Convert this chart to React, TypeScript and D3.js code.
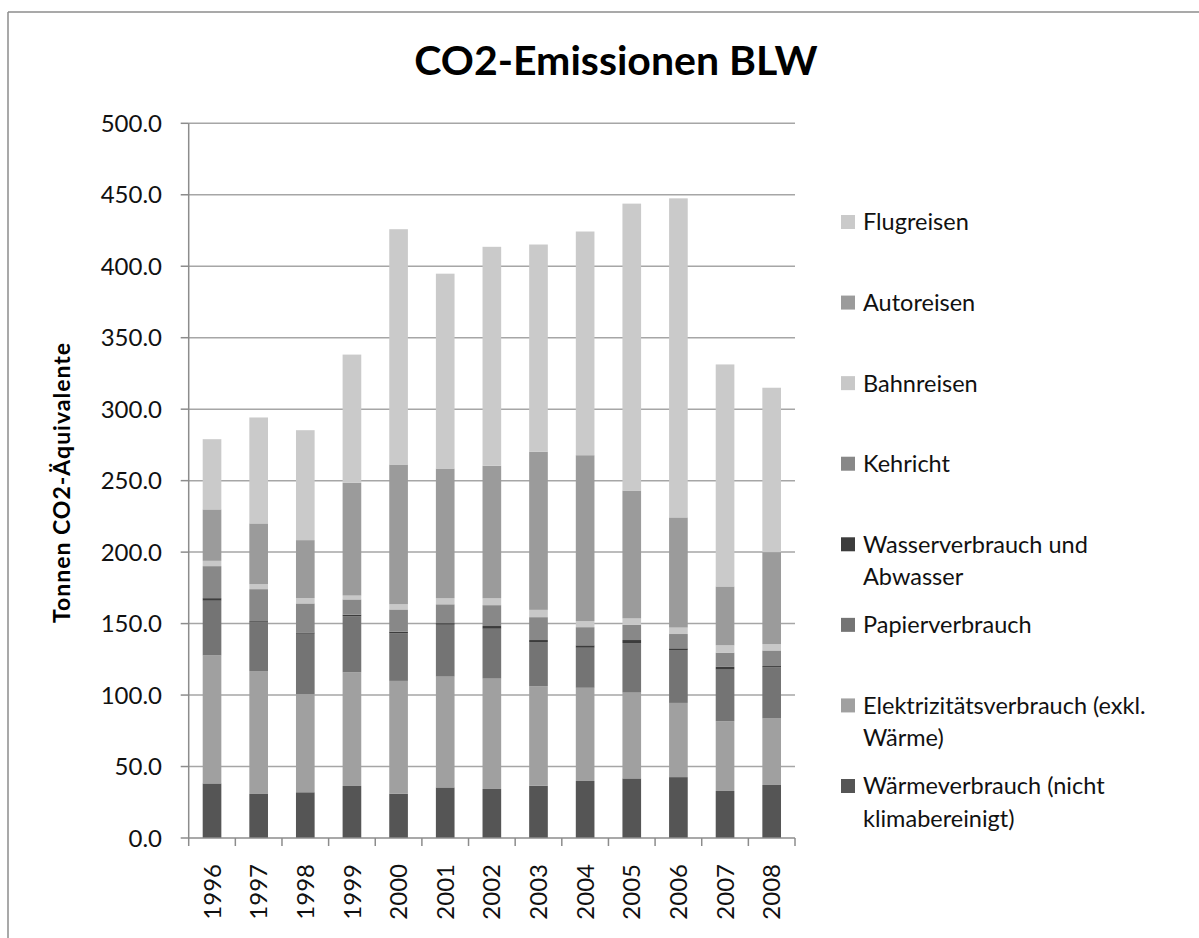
import React from 'react';
import * as d3 from 'd3';

// Years on the category axis
const years = ['1996', '1997', '1998', '1999', '2000', '2001', '2002', '2003', '2004', '2005', '2006', '2007', '2008'];

// Series values (Tonnen CO2-Äquivalente), bottom of the stack first
const waerme = [38.2, 30.8, 32.0, 36.4, 30.9, 35.4, 34.3, 36.5, 39.9, 41.7, 42.6, 32.9, 37.1];
const elektrizitaet = [89.5, 86.0, 68.7, 79.5, 79.0, 77.5, 77.2, 69.7, 65.2, 60.0, 51.9, 48.8, 46.5];
const papier = [38.3, 34.0, 42.2, 39.3, 33.4, 36.3, 34.9, 30.9, 28.0, 34.7, 37.0, 36.1, 35.7];
const wasser = [1.8, 0.9, 0.9, 1.0, 1.1, 1.1, 1.9, 1.4, 1.7, 2.1, 1.2, 1.9, 1.0];
const kehricht = [22.4, 22.4, 20.3, 10.7, 15.5, 13.2, 14.6, 16.0, 12.7, 10.6, 10.0, 10.0, 10.9];
const bahnreisen = [3.7, 3.5, 3.7, 2.7, 3.6, 4.2, 4.8, 5.1, 4.2, 4.5, 4.5, 5.1, 4.5];
const autoreisen = [36.0, 42.5, 40.6, 78.9, 97.8, 90.8, 92.7, 110.7, 116.1, 89.5, 77.1, 41.2, 64.3];
const flugreisen = [49.1, 74.1, 76.9, 89.7, 164.6, 136.3, 153.2, 144.9, 156.5, 200.7, 223.2, 155.3, 115.0];

const yTicks = [0, 50, 100, 150, 200, 250, 300, 350, 400, 450, 500];

const series = [
    { key: 'waerme', values: waerme, color: '#555555', label: ['Wärmeverbrauch (nicht', 'klimabereinigt)'] },
    { key: 'elek', values: elektrizitaet, color: '#a0a0a0', label: ['Elektrizitätsverbrauch (exkl.', 'Wärme)'] },
    { key: 'papier', values: papier, color: '#747474', label: ['Papierverbrauch'] },
    { key: 'wasser', values: wasser, color: '#3c3c3c', label: ['Wasserverbrauch und', 'Abwasser'] },
    { key: 'kehricht', values: kehricht, color: '#888888', label: ['Kehricht'] },
    { key: 'bahn', values: bahnreisen, color: '#c8c8c8', label: ['Bahnreisen'] },
    { key: 'auto', values: autoreisen, color: '#9b9b9b', label: ['Autoreisen'] },
    { key: 'flug', values: flugreisen, color: '#cacaca', label: ['Flugreisen'] },
];

const FONT = 'Lato, "Open Sans", sans-serif';

const App = () => {
    const width = 1199;
    const height = 938;
    const left = 188.7;
    const right = 795;
    const top = 123.3;
    const bottom = 838;

    const x = d3.scaleBand().domain(years).range([left, right]).paddingInner(0.6).paddingOuter(0.3);
    const y = d3.scaleLinear().domain([0, 500]).range([bottom, top]);

    // table for d3.stack
    const table = years.map((yr, i) => {
        const row: any = { year: yr };
        series.forEach(s => { row[s.key] = s.values[i]; });
        return row;
    });
    const stacked = d3.stack().keys(series.map(s => s.key))(table);

    const step = x.step();
    const boundaries = d3.range(years.length + 1).map(i => left + i * step);

    // legend drawn top to bottom in reverse stack order
    const legendItems = series.slice().reverse();
    const legendY = d3.scaleLinear().domain([0, legendItems.length - 1]).range([222, 786]);

    return (
        <svg width={width} height={height} style={{ position: 'absolute', left: 0, top: 0, background: '#fff' }} fontFamily={FONT}>
            {/* chart frame */}
            <line x1={8} x2={width} y1={12} y2={12} stroke="#8c8c8c" strokeWidth={1.5} />
            <line x1={8} x2={8} y1={12} y2={height} stroke="#8c8c8c" strokeWidth={1.5} />

            <text x={616} y={75} textAnchor="middle" fontSize={41} fontWeight="bold" fill="#000">CO2-Emissionen BLW</text>

            {/* gridlines */}
            {yTicks.filter(t => t > 0).map(t => (
                <line key={'g' + t} x1={left} x2={right} y1={y(t)} y2={y(t)} stroke="#a6a6a6" strokeWidth={1.5} />
            ))}

            {/* bars */}
            {stacked.map((layer, li) => (
                <g key={layer.key} fill={series[li].color}>
                    {layer.map((d, i) => (
                        <rect key={i} x={x(years[i])} width={x.bandwidth()} y={y(d[1])} height={y(d[0]) - y(d[1])} />
                    ))}
                </g>
            ))}

            {/* y axis */}
            <line x1={left} x2={left} y1={top} y2={bottom} stroke="#8c8c8c" strokeWidth={1.5} />
            {yTicks.map(t => (
                <g key={'t' + t}>
                    <line x1={left - 8} x2={left} y1={y(t)} y2={y(t)} stroke="#8c8c8c" strokeWidth={1.5} />
                    <text x={162} y={y(t)} dy="0.36em" textAnchor="end" fontSize={24} fill="#111">{d3.format('.1f')(t)}</text>
                </g>
            ))}

            {/* x axis */}
            <line x1={left} x2={right} y1={bottom} y2={bottom} stroke="#8c8c8c" strokeWidth={1.5} />
            {boundaries.map((bx, i) => (
                <line key={'xt' + i} x1={bx} x2={bx} y1={bottom} y2={bottom + 8} stroke="#8c8c8c" strokeWidth={1.5} />
            ))}
            {years.map(yr => {
                const cx = (x(yr) as number) + x.bandwidth() / 2;
                return (
                    <text key={yr} transform={`translate(${cx},864) rotate(-90)`} textAnchor="end" dy="0.36em" fontSize={24} fill="#111">{yr}</text>
                );
            })}

            <text transform="translate(62,482.5) rotate(-90)" textAnchor="middle" dy="0.36em" fontSize={23} letterSpacing={1} fontWeight="bold" fill="#000">Tonnen CO2-Äquivalente</text>

            {/* legend */}
            {legendItems.map((s, i) => {
                const ly = legendY(i);
                return (
                    <g key={'l' + s.key}>
                        <rect x={841} y={ly - 7} width={14} height={14} fill={s.color} />
                        {s.label.map((line, j) => (
                            <text key={j} x={863} y={ly + j * 32.5} dy="0.36em" fontSize={23.5} fill="#111">{line}</text>
                        ))}
                    </g>
                );
            })}
        </svg>
    );
};

export default App;
